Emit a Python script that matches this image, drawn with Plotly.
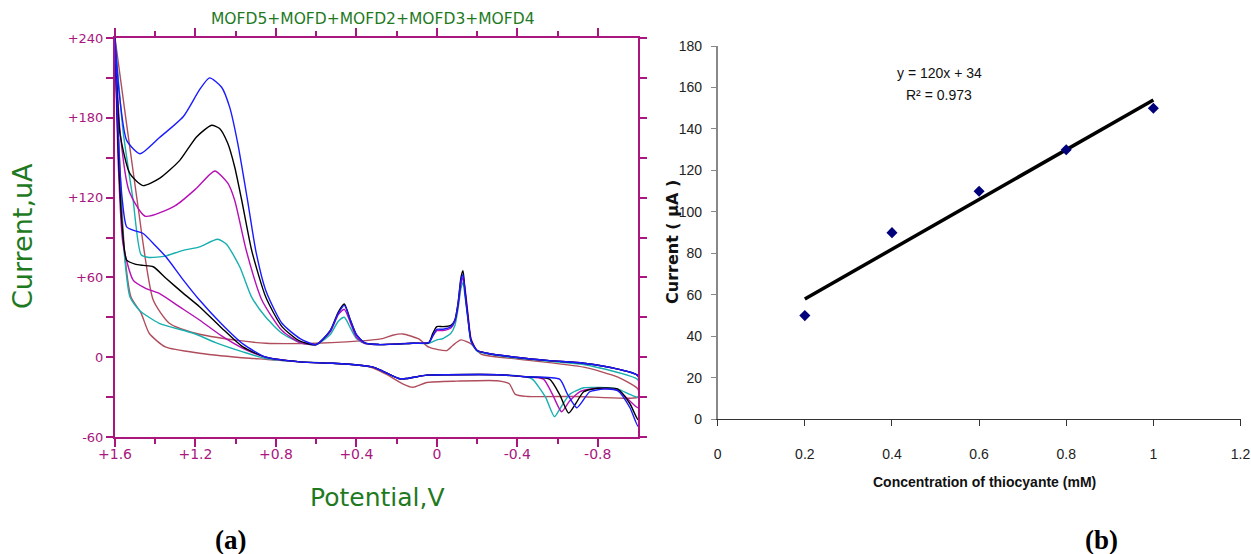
import plotly.graph_objects as go

# ---------------- (a) cyclic voltammograms : (potential V, current uA) ----------------
blue_anodic = [(-1.0, -14), (-0.9, -9), (-0.73, -4.5), (-0.56, -2.6), (-0.39, 0), (-0.25, 3), (-0.2, 5),
               (-0.17, 12), (-0.155, 28), (-0.14, 48), (-0.13, 62), (-0.12, 58), (-0.105, 40), (-0.09, 28),
               (-0.07, 23), (-0.03, 21), (0.0, 21), (0.02, 16), (0.04, 11), (0.12, 10.5), (0.29, 9.5),
               (0.36, 11), (0.40, 17), (0.43, 28), (0.46, 39), (0.49, 33), (0.53, 20), (0.6, 9.5),
               (0.68, 14), (0.77, 25.5), (0.85, 50), (0.9, 80), (0.94, 117), (0.99, 161), (1.03, 188),
               (1.07, 203), (1.13, 210), (1.18, 201), (1.26, 181), (1.38, 165), (1.476, 153), (1.542, 163),
               (1.58, 200), (1.6, 240)]
blue_cathodic = [(1.6, 240), (1.585, 170), (1.565, 120), (1.542, 98), (1.5, 95), (1.46, 93), (1.4, 84),
                 (1.344, 75), (1.26, 58), (1.18, 43), (1.07, 25), (0.964, 10), (0.85, 0), (0.68, -3.5),
                 (0.52, -4.6), (0.385, -6), (0.32, -7.3), (0.27, -10.5), (0.19, -16), (0.15, -16),
                 (0.05, -13.5), (-0.05, -13.2), (-0.305, -13.2), (-0.44, -14.7), (-0.61, -16.5),
                 (-0.65, -28), (-0.695, -38), (-0.72, -34), (-0.76, -26), (-0.83, -24), (-0.9, -25.3),
                 (-0.96, -38), (-1.0, -52)]

black_anodic = [(-1.0, -14), (-0.9, -9), (-0.73, -4.5), (-0.56, -2.6), (-0.39, 0), (-0.25, 3), (-0.2, 5),
                (-0.17, 13), (-0.155, 30), (-0.14, 50), (-0.13, 65), (-0.12, 60), (-0.105, 40), (-0.09, 28),
                (-0.07, 24), (-0.03, 23), (0.0, 23), (0.02, 18), (0.04, 11), (0.12, 10.5), (0.29, 9.5),
                (0.36, 11), (0.40, 17), (0.43, 28), (0.46, 40), (0.49, 34), (0.53, 20), (0.6, 9.5),
                (0.68, 12), (0.77, 23), (0.85, 45), (0.92, 80), (0.97, 118), (1.005, 143), (1.04, 161),
                (1.08, 172), (1.12, 174.4), (1.195, 165.6), (1.278, 148), (1.377, 134.6), (1.461, 129),
                (1.526, 138), (1.575, 168), (1.6, 240)]
black_cathodic = [(1.6, 240), (1.585, 160), (1.565, 100), (1.542, 73), (1.5, 70), (1.46, 69), (1.41, 68),
                  (1.344, 59), (1.26, 48), (1.18, 38), (1.07, 22), (0.964, 7.7), (0.85, 0), (0.68, -3.5),
                  (0.52, -4.6), (0.385, -6), (0.32, -7.3), (0.27, -10.5), (0.19, -16), (0.15, -16),
                  (0.05, -13.5), (-0.05, -13.2), (-0.305, -13.2), (-0.44, -14.7), (-0.56, -16.5),
                  (-0.61, -28), (-0.655, -42), (-0.69, -35), (-0.73, -26), (-0.8, -23.3), (-0.9, -24),
                  (-0.96, -35), (-1.0, -47)]

magenta_anodic = [(-1.0, -14), (-0.9, -9), (-0.73, -4.5), (-0.56, -2.6), (-0.39, 0), (-0.25, 3), (-0.2, 5),
                  (-0.17, 14), (-0.155, 32), (-0.14, 52), (-0.13, 60), (-0.12, 55), (-0.105, 38), (-0.09, 27),
                  (-0.07, 22), (-0.03, 20), (0.0, 20), (0.02, 16), (0.04, 11), (0.12, 10.5), (0.29, 9.5),
                  (0.36, 10.5), (0.40, 15), (0.43, 26), (0.46, 36), (0.49, 32), (0.53, 19), (0.6, 9.5),
                  (0.68, 11), (0.77, 20), (0.87, 43), (0.947, 80), (1.005, 118), (1.04, 131), (1.104, 140),
                  (1.195, 127), (1.3, 114), (1.45, 106), (1.53, 125), (1.575, 170), (1.6, 240)]
magenta_cathodic = [(1.6, 240), (1.585, 150), (1.56, 85), (1.51, 58), (1.45, 52), (1.38, 48), (1.28, 38),
                    (1.18, 28), (1.07, 16), (0.964, 6.7), (0.85, 0), (0.68, -3.5), (0.52, -4.6),
                    (0.385, -6), (0.32, -7.3), (0.27, -10.5), (0.19, -16), (0.15, -16), (0.05, -13.5),
                    (-0.05, -13.2), (-0.305, -13.2), (-0.44, -14.7), (-0.53, -16.5), (-0.575, -28),
                    (-0.62, -41), (-0.66, -33), (-0.71, -26), (-0.79, -23.3), (-0.9, -25), (-0.96, -33),
                    (-1.0, -38)]

cyan_anodic = [(-1.0, -17), (-0.9, -11.5), (-0.73, -5.5), (-0.56, -3), (-0.39, -0.5), (-0.25, 2.5),
               (-0.2, 4.5), (-0.17, 12), (-0.155, 28), (-0.14, 46), (-0.13, 56), (-0.12, 52), (-0.105, 36),
               (-0.09, 24), (-0.07, 18), (-0.03, 14), (0.0, 13), (0.04, 10.5), (0.12, 10.5), (0.29, 9.5),
               (0.36, 10.5), (0.40, 14), (0.43, 22), (0.46, 30), (0.49, 27), (0.53, 17), (0.6, 9.5),
               (0.68, 11), (0.77, 18), (0.85, 30), (0.92, 45), (0.98, 68), (1.046, 85), (1.09, 88.7),
               (1.18, 83), (1.27, 80), (1.35, 76), (1.43, 75), (1.47, 77), (1.51, 118), (1.56, 170),
               (1.6, 240)]
cyan_cathodic = [(1.6, 240), (1.58, 150), (1.555, 80), (1.525, 45), (1.476, 35), (1.38, 25.5), (1.21, 18),
                 (1.1, 11), (0.964, 4), (0.85, -1), (0.68, -3.5), (0.52, -4.6), (0.385, -6), (0.32, -7.3),
                 (0.27, -10.5), (0.19, -16), (0.15, -16), (0.05, -13.5), (-0.05, -13.2), (-0.305, -13.2),
                 (-0.44, -14.7), (-0.475, -16.5), (-0.54, -30), (-0.585, -44.7), (-0.615, -38),
                 (-0.66, -28), (-0.73, -23), (-0.81, -22.8), (-0.9, -24), (-0.96, -28), (-1.0, -30)]

brown_anodic = [(-1.0, -24), (-0.9, -15), (-0.73, -7.5), (-0.4, -1.4), (-0.22, 2.3), (-0.17, 10),
                (-0.12, 13), (-0.08, 9), (-0.05, 5), (0.04, 7.5), (0.09, 13.7), (0.17, 17.5), (0.22, 16.5),
                (0.27, 14), (0.45, 11.5), (0.6, 10.5), (0.85, 10.5), (1.0, 12.8), (1.2, 18), (1.33, 25.5),
                (1.41, 43), (1.49, 118), (1.6, 240)]
brown_cathodic = [(1.6, 240), (1.575, 140), (1.55, 75), (1.52, 45), (1.47, 33), (1.43, 18), (1.35, 7.7),
                  (1.18, 3), (0.93, -0.8), (0.85, -1.5), (0.68, -3.5), (0.52, -4.6), (0.385, -6),
                  (0.32, -8), (0.25, -13), (0.17, -20), (0.12, -22.6), (0.05, -19), (-0.1, -18),
                  (-0.3, -17.7), (-0.36, -20), (-0.39, -28), (-0.45, -29.5), (-0.7, -29.5), (-1.0, -30)]

cv_curves = [
    ("brown", brown_anodic, brown_cathodic, "#B04D5C"),
    ("cyan", cyan_anodic, cyan_cathodic, "#17AFAF"),
    ("magenta", magenta_anodic, magenta_cathodic, "#B510B5"),
    ("black", black_anodic, black_cathodic, "#000000"),
    ("blue", blue_anodic, blue_cathodic, "#1A1AFF"),
]

x_tick_vals = [1.6, 1.2, 0.8, 0.4, 0.0, -0.4, -0.8]
x_tick_text = ["+1.6", "+1.2", "+0.8", "+0.4", "0", "-0.4", "-0.8"]
y_tick_vals = [-60, 0, 60, 120, 180, 240]
y_tick_text = ["-60", "0", "+60", "+120", "+180", "+240"]

# ---------------- (b) calibration ----------------
conc_mM = [0.2, 0.4, 0.6, 0.8, 1.0]
current_uA = [50, 90, 110, 130, 150]
trend_conc = [0.2, 1.0]
trend_current = [58, 154]

W, H = 1251, 554
MAG = "#A8167E"
GREEN = "#1F7A1F"
DV = "DejaVu Sans, Verdana, sans-serif"
AR = "Liberation Sans, Arial, sans-serif"

fig = go.Figure()
for name, an, ca, col in cv_curves:
    pts = an + ca + [an[0]]
    fig.add_trace(go.Scatter(x=[p[0] for p in pts], y=[p[1] for p in pts], mode="lines",
                             line=dict(color=col, width=1.4, shape="spline", smoothing=0.6),
                             name=name, showlegend=False, xaxis="x", yaxis="y", hoverinfo="skip"))

fig.add_trace(go.Scatter(x=trend_conc, y=trend_current, mode="lines", line=dict(color="black", width=3.5),
                         showlegend=False, xaxis="x2", yaxis="y2"))
fig.add_trace(go.Scatter(x=conc_mM, y=current_uA, mode="markers",
                         marker=dict(symbol="diamond", size=8.5, color="#00007A"),
                         showlegend=False, xaxis="x2", yaxis="y2"))

def px(x):
    return x / W

def py(y):
    return 1 - y / H

ax_common_a = dict(showgrid=False, zeroline=False, showline=True, linecolor=MAG, linewidth=2,
                   mirror="allticks", ticks="outside", tickcolor=MAG, tickwidth=1.5, automargin=False)

fig.update_layout(
    width=W, height=H, margin=dict(l=0, r=0, t=0, b=0, autoexpand=False),
    paper_bgcolor="white", plot_bgcolor="white",
    xaxis=dict(domain=[px(115), px(638)], range=[1.6, -1.0], anchor="y",
               tickmode="array", tickvals=x_tick_vals, ticktext=x_tick_text, ticklen=8,
               ticklabelstandoff=-5,
               tickfont=dict(family=DV, size=14, color=MAG),
               minor=dict(tickmode="array", tickvals=[1.4, 1.0, 0.6, 0.2, -0.2, -0.6],
                          ticks="outside", ticklen=5, tickcolor=MAG, tickwidth=1.5),
               **ax_common_a),
    yaxis=dict(domain=[py(437), py(38)], range=[-60, 240], anchor="x",
               tickmode="array", tickvals=y_tick_vals, ticktext=y_tick_text, ticklen=7,
               tickfont=dict(family=DV, size=13, color=MAG),
               minor=dict(tickmode="array", tickvals=[-30, 30, 90, 150, 210],
                          ticks="outside", ticklen=7, tickcolor=MAG, tickwidth=1.5),
               **ax_common_a),
    xaxis2=dict(domain=[px(717.7), px(1240.5)], range=[0, 1.2], anchor="y2", dtick=0.2, tick0=0,
                showgrid=False, zeroline=False, showline=True, linecolor="#333", linewidth=1,
                ticks="outside", ticklen=6, tickcolor="#333", ticklabelstandoff=16, automargin=False,
                tickfont=dict(family=AR, size=14, color="#222")),
    yaxis2=dict(domain=[py(419.3), py(46)], range=[0, 180], anchor="x2", dtick=20, tick0=0,
                showgrid=False, zeroline=False, showline=True, linecolor="#888", linewidth=1.5,
                ticks="outside", ticklen=5, tickcolor="#888", ticklabelstandoff=6, automargin=False,
                tickfont=dict(family=AR, size=14, color="#222")),
)

ann = [
    dict(text="MOFD5+MOFD+MOFD2+MOFD3+MOFD4", x=px(373), y=py(19),
         font=dict(family=DV, size=15.5, color=GREEN)),
    dict(text="Current,uA", x=px(22), y=py(236), textangle=-90,
         font=dict(family=DV, size=27, color=GREEN)),
    dict(text="Potential,V", x=px(377), y=py(497),
         font=dict(family=DV, size=25, color=GREEN)),
    dict(text="<b>(a)</b>", x=px(230), y=py(540),
         font=dict(family="Liberation Serif, Times New Roman, serif", size=27, color="black")),
    dict(text="<b>(b)</b>", x=px(1101), y=py(540),
         font=dict(family="Liberation Serif, Times New Roman, serif", size=27, color="black")),
    dict(text="y = 120x + 34", x=px(939), y=py(73),
         font=dict(family=AR, size=14, color="#111")),
    dict(text="R² = 0.973", x=px(939), y=py(95),
         font=dict(family=AR, size=14, color="#111")),
    dict(text="<b>Current ( µA )</b>", x=px(672), y=py(242), textangle=-90,
         font=dict(family=DV, size=16, color="#111")),
    dict(text="<b>Concentration of thiocyante (mM)</b>", x=px(985), y=py(482),
         font=dict(family=AR, size=14, color="#111")),
]
for a in ann:
    a.update(xref="paper", yref="paper", showarrow=False, xanchor="center", yanchor="middle")
fig.update_layout(annotations=ann)

fig.write_html("out.html")
